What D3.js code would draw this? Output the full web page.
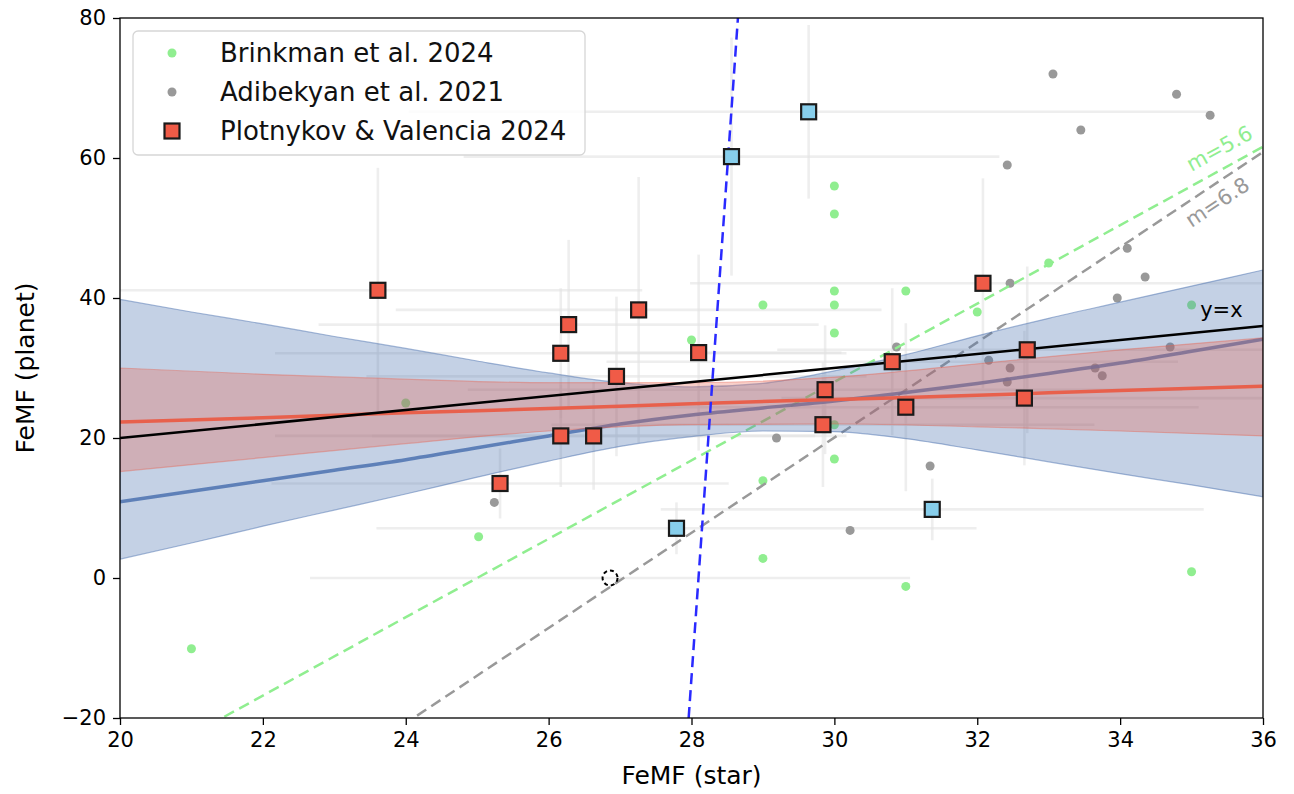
<!DOCTYPE html>
<html>
<head>
<meta charset="utf-8">
<script src="https://cdn.jsdelivr.net/npm/d3@7"></script>
<style>
  body { margin: 0; background: #fff; }
  svg { display: block; font-family: "DejaVu Sans", sans-serif; }
</style>
</head>
<body>
<svg id="chart" width="1294" height="794"></svg>
<script>
// ---- Data -------------------------------------------------------------
// Brinkman et al. 2024 (star FeMF, planet FeMF)
const brinkmanX = [21.0, 25.02, 24.0, 28.0, 29.0, 29.0, 29.0, 30.0, 30.0, 30.0, 30.0, 30.0, 30.0, 30.0, 31.0, 31.0, 32.0, 33.0, 35.0, 35.0];
const brinkmanY = [-10.1, 5.9, 25.0, 34.0, 39.0, 13.9, 2.8, 56.0, 52.0, 41.0, 39.0, 35.0, 21.9, 17.0, 41.0, -1.2, 38.0, 45.0, 39.0, 0.9];

// Adibekyan et al. 2021
const adibekyanX = [25.24, 29.19, 30.22, 30.87, 31.34, 32.16, 32.42, 32.46, 32.46, 32.42, 33.06, 33.45, 33.65, 33.75, 33.96, 34.10, 34.35, 34.70, 34.79, 35.26];
const adibekyanY = [10.8, 20.0, 6.8, 33.0, 16.0, 31.1, 59.0, 42.1, 30.0, 28.0, 72.0, 64.0, 30.0, 28.9, 40.0, 47.1, 43.0, 33.0, 69.1, 66.1];

// Plotnykov & Valencia 2024 (main sample)
const pvX    = [23.61, 26.28, 26.17, 27.26, 26.95, 28.10, 26.17, 26.63, 25.32, 29.87, 29.84, 30.81, 31.00, 32.08, 32.70, 32.66];
const pvY    = [41.1, 36.2, 32.1, 38.3, 28.8, 32.2, 20.3, 20.3, 13.5, 26.9, 21.9, 30.9, 24.4, 42.1, 32.6, 25.7];
const pvXErr = [3.7, 3.5, 4.0, 3.4, 3.5, 2.0, 4.0, 3.1, 3.2, 5.0, 3.8, 4.0, 4.1, 4.1, 3.5, 3.4];
const pvYErr = [17.5, 12.1, 9.3, 19.0, 11.4, 14.0, 7.3, 7.7, 5.0, 9.2, 8.9, 10.5, 12.0, 15.0, 11.9, 9.6];

// Plotnykov & Valencia 2024 (outliers)
const outX    = [29.64, 28.56, 27.79, 31.37];
const outY    = [66.6, 60.2, 7.1, 9.8];
const outXErr = [5.6, 3.75, 4.2, 3.8];
const outYErr = [12.4, 17.0, 3.7, 4.4];

// Upper-limit planet (open dashed marker)
const limitX = [26.86];
const limitY = [0.0];
const limitXErr = [4.2];

// Fit of the full sample: median and confidence envelope
const fitAllX   = [20, 21, 22, 23, 24, 25, 26, 27, 28, 29, 30, 31, 32, 33, 34, 35, 36];
const fitAllMid = [10.9, 12.4, 13.9, 15.4, 16.9, 18.6, 20.3, 22.0, 23.3, 24.3, 25.3, 26.5, 27.8, 29.2, 30.7, 32.4, 34.1];
const fitAllLo  = [2.7, 5.0, 7.4, 9.7, 12.0, 14.4, 16.7, 18.8, 20.2, 21.0, 20.9, 19.9, 18.3, 16.6, 14.9, 13.3, 11.6];
const fitAllHi  = [39.8, 38.0, 36.3, 34.5, 32.8, 31.0, 29.3, 27.9, 27.3, 27.8, 29.6, 31.9, 34.6, 37.1, 39.4, 41.7, 44.0];

// Fit of the main sample: line and confidence envelope
const fitPvX   = [20, 22, 24, 26, 28, 30, 32, 34, 36];
const fitPvMid = [22.3, 22.9, 23.6, 24.2, 24.9, 25.5, 26.1, 26.8, 27.4];
const fitPvLo  = [15.2, 17.2, 19.2, 21.0, 21.9, 22.0, 21.6, 21.0, 20.3];
const fitPvHi  = [30.0, 29.1, 28.4, 27.9, 27.9, 28.7, 30.6, 32.6, 34.3];

// Reference relations: slope m through the point where planet FeMF = 0
const relSlopes  = [5.6, 6.8];
const relZeroX   = [25.0, 27.05];
const relColors  = ["#90ee90", "#999999"];
const relLabels  = ["m=5.6", "m=6.8"];
const relLabelX  = [35.0, 35.0];
const relLabelY  = [58.0, 50.0];

// Steep trend of the main sample (two end points)
const steepX = [27.96, 28.65];
const steepY = [-20, 80];

// One-to-one line
const oneToOne = [20, 36];

const xTicks = [20, 22, 24, 26, 28, 30, 32, 34, 36];
const yTicks = [-20, 0, 20, 40, 60, 80];

// ---- Layout -----------------------------------------------------------
const svg = d3.select("#chart");
const plotL = 120, plotR = 1263, plotT = 18, plotB = 718;
const x = d3.scaleLinear().domain([20, 36]).range([plotL, plotR]);
const y = d3.scaleLinear().domain([-20, 80]).range([plotB, plotT]);

svg.append("defs").append("clipPath").attr("id", "plotclip")
  .append("rect").attr("x", plotL).attr("y", plotT)
  .attr("width", plotR - plotL).attr("height", plotB - plotT);

const plot = svg.append("g").attr("clip-path", "url(#plotclip)");

// Error bars (drawn faint, beneath everything)
const errG = plot.append("g").attr("stroke", "#e2e2e2").attr("stroke-width", 2.6).attr("stroke-opacity", 0.6);
function errorBars(xs, ys, xe, ye) {
  xs.forEach((xv, i) => {
    if (xe && xe[i]) {
      errG.append("line").attr("x1", x(xv - xe[i])).attr("x2", x(xv + xe[i]))
        .attr("y1", y(ys[i])).attr("y2", y(ys[i]));
    }
    if (ye && ye[i]) {
      errG.append("line").attr("x1", x(xv)).attr("x2", x(xv))
        .attr("y1", y(ys[i] - ye[i])).attr("y2", y(ys[i] + ye[i]));
    }
  });
}
errorBars(pvX, pvY, pvXErr, pvYErr);
errorBars(outX, outY, outXErr, outYErr);
errorBars(limitX, limitY, limitXErr, null);

// Literature samples
plot.append("g").selectAll("circle").data(brinkmanX).join("circle")
  .attr("cx", (d) => x(d)).attr("cy", (d, i) => y(brinkmanY[i]))
  .attr("r", 4.5).attr("fill", "#90ee90");
plot.append("g").selectAll("circle").data(adibekyanX).join("circle")
  .attr("cx", (d) => x(d)).attr("cy", (d, i) => y(adibekyanY[i]))
  .attr("r", 4.5).attr("fill", "#999999");

// Reference relations
const dash = "11,6";
relSlopes.forEach((m, i) => {
  plot.append("line")
    .attr("x1", x(20)).attr("y1", y(m * (20 - relZeroX[i])))
    .attr("x2", x(36)).attr("y2", y(m * (36 - relZeroX[i])))
    .attr("stroke", relColors[i]).attr("stroke-width", 2.5)
    .attr("stroke-dasharray", dash);
});

// Envelope of the full-sample fit
const area = (xs, lo, hi) => d3.area()
  .x((d) => x(xs[d])).y0((d) => y(lo[d])).y1((d) => y(hi[d]))
  .curve(d3.curveMonotoneX)(d3.range(xs.length));
const line = (xs, ys) => d3.line()
  .x((d) => x(xs[d])).y((d) => y(ys[d]))
  .curve(d3.curveMonotoneX)(d3.range(xs.length));

plot.append("path").attr("d", area(fitAllX, fitAllLo, fitAllHi))
  .attr("fill", "#4c72b0").attr("fill-opacity", 0.33)
  .attr("stroke", "#4c72b0").attr("stroke-opacity", 0.5).attr("stroke-width", 1.2);
plot.append("path").attr("d", line(fitAllX, fitAllMid))
  .attr("fill", "none").attr("stroke", "#4c72b0").attr("stroke-width", 3.5).attr("stroke-opacity", 0.85);

// Envelope of the main-sample fit
plot.append("path").attr("d", area(fitPvX, fitPvLo, fitPvHi))
  .attr("fill", "#e8604c").attr("fill-opacity", 0.3)
  .attr("stroke", "#e8604c").attr("stroke-opacity", 0.4).attr("stroke-width", 1.2);
plot.append("path").attr("d", line(fitPvX, fitPvMid))
  .attr("fill", "none").attr("stroke", "#e8604c").attr("stroke-width", 3.5);

// One-to-one line
plot.append("line")
  .attr("x1", x(oneToOne[0])).attr("y1", y(oneToOne[0]))
  .attr("x2", x(oneToOne[1])).attr("y2", y(oneToOne[1]))
  .attr("stroke", "#000").attr("stroke-width", 2.5);

// Steep trend
plot.append("line")
  .attr("x1", x(steepX[0])).attr("y1", y(steepY[0]))
  .attr("x2", x(steepX[1])).attr("y2", y(steepY[1]))
  .attr("stroke", "#2a2aff").attr("stroke-width", 2.5).attr("stroke-dasharray", dash);

// Labels for the relations
relSlopes.forEach((m, i) => {
  const ang = -Math.atan2(y(0) - y(m), x(1) - x(0)) * 180 / Math.PI;
  svg.append("text")
    .attr("transform", `translate(${x(relLabelX[i])},${y(relLabelY[i])}) rotate(${ang})`)
    .attr("fill", relColors[i]).attr("font-size", 21).text(relLabels[i]);
});
svg.append("text").attr("x", x(35.12)).attr("y", y(37.3))
  .attr("font-size", 21).attr("fill", "#000").text("y=x");

// Upper-limit marker
plot.append("circle").attr("cx", x(limitX[0])).attr("cy", y(limitY[0])).attr("r", 7.5)
  .attr("fill", "none").attr("stroke", "#000").attr("stroke-width", 2)
  .attr("stroke-dasharray", "4,3");

// Squares
const sq = 15;
function squares(xs, ys, fill) {
  plot.append("g").selectAll("rect").data(xs).join("rect")
    .attr("x", (d) => x(d) - sq / 2).attr("y", (d, i) => y(ys[i]) - sq / 2)
    .attr("width", sq).attr("height", sq)
    .attr("fill", fill).attr("stroke", "#1a1a1a").attr("stroke-width", 2.2);
}
squares(pvX, pvY, "#f05b47");
squares(outX, outY, "#87ceeb");

// ---- Axes -------------------------------------------------------------
const xAxis = svg.append("g").attr("transform", `translate(0,${plotB})`)
  .call(d3.axisBottom(x).tickValues(xTicks).tickSize(7).tickPadding(7).tickFormat(d3.format("d")));
const yAxis = svg.append("g").attr("transform", `translate(${plotL},0)`)
  .call(d3.axisLeft(y).tickValues(yTicks).tickSize(7).tickPadding(7).tickFormat(d3.format("d")));
[xAxis, yAxis].forEach((g) => {
  g.select(".domain").remove();
  g.selectAll(".tick line").attr("stroke", "#000").attr("stroke-width", 1.3);
  g.selectAll(".tick text").attr("font-size", 21).attr("fill", "#000")
    .attr("font-family", "DejaVu Sans, sans-serif");
});

svg.append("rect").attr("x", plotL).attr("y", plotT)
  .attr("width", plotR - plotL).attr("height", plotB - plotT)
  .attr("fill", "none").attr("stroke", "#000").attr("stroke-width", 1.3);

svg.append("text").attr("x", (plotL + plotR) / 2).attr("y", 784)
  .attr("text-anchor", "middle").attr("font-size", 25).text("FeMF (star)");
svg.append("text").attr("transform", `translate(34,${(plotT + plotB) / 2}) rotate(-90)`)
  .attr("text-anchor", "middle").attr("font-size", 25).text("FeMF (planet)");

// ---- Legend -----------------------------------------------------------
const legend = svg.append("g");
legend.append("rect").attr("x", 133).attr("y", 31).attr("width", 452).attr("height", 124)
  .attr("rx", 5).attr("fill", "#fff").attr("fill-opacity", 0.8)
  .attr("stroke", "#d6d6d6").attr("stroke-width", 1.3);
const legendNames = ["Brinkman et al. 2024", "Adibekyan et al. 2021", "Plotnykov & Valencia 2024"];
const legendRows = [53, 92, 131];
legend.append("circle").attr("cx", 172).attr("cy", legendRows[0]).attr("r", 4.5).attr("fill", "#90ee90");
legend.append("circle").attr("cx", 172).attr("cy", legendRows[1]).attr("r", 4.5).attr("fill", "#999999");
legend.append("rect").attr("x", 172 - sq / 2).attr("y", legendRows[2] - sq / 2)
  .attr("width", sq).attr("height", sq).attr("fill", "#f05b47")
  .attr("stroke", "#1a1a1a").attr("stroke-width", 2.2);
legendNames.forEach((t, i) => {
  legend.append("text").attr("x", 220).attr("y", legendRows[i] + 9)
    .attr("font-size", 26).attr("fill", "#111").text(t);
});
</script>
</body>
</html>
